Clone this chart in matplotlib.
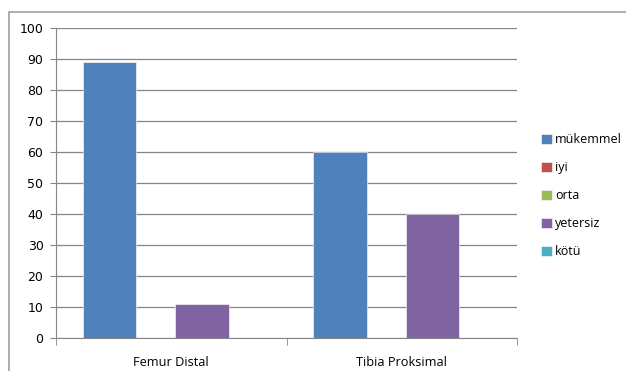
import matplotlib.pyplot as plt
from matplotlib.patches import Rectangle
import numpy as np

# data
categories = ["Femur Distal", "Tibia Proksimal"]
series_names = ["mükemmel", "iyi", "orta", "yetersiz", "kötü"]
mukemmel = [88.9, 60.0]
iyi = [0, 0]
orta = [0, 0]
yetersiz = [11.1, 40.0]
kotu = [0, 0]
series_values = [mukemmel, iyi, orta, yetersiz, kotu]
colors = ["#4f81bd", "#c0504d", "#9bbb59", "#8064a2", "#4bacc6"]

plt.rcParams['font.family'] = ['Open Sans', 'DejaVu Sans']

W, H = 626, 371
fig = plt.figure(figsize=(W / 100, H / 100), dpi=100)

# chart frame (excel style border), runs off the right and bottom
fig.patches.append(Rectangle((9 / W, -20 / H), 700 / W, (371 + 20 - 12) / H,
                             transform=fig.transFigure, fill=False,
                             edgecolor="#a0a0a0", linewidth=1.2))

# plot area
left, right, top, bottom = 56, 517, 28, 338
ax = fig.add_axes([left / W, 1 - bottom / H, (right - left) / W, (bottom - top) / H])

x = np.arange(len(categories))
step = 0.134
width = 0.232
for i, (name, vals) in enumerate(zip(series_names, series_values)):
    ax.bar(x + (i - 2) * step, vals, width, color=colors[i], label=name,
           edgecolor="white", linewidth=0.4, zorder=3)

ax.set_xlim(-0.5, 1.5)
ax.set_ylim(0, 100)
ax.set_yticks(np.arange(0, 101, 10))
ax.set_yticklabels([str(v) for v in range(0, 101, 10)], family="DejaVu Sans", fontsize=9)
ax.yaxis.grid(True, color="#868686", linewidth=0.9, zorder=0)
ax.set_xticks(x)
ax.set_xticklabels(categories, fontsize=9.2)
ax.tick_params(axis="x", length=0, pad=13)
ax.set_xticks([-0.5, 0.5, 1.5], minor=True)
ax.tick_params(axis="x", which="minor", length=5, color="#868686", direction="out")
ax.tick_params(axis="y", length=4, color="#868686", pad=5)

for s in ["top", "right"]:
    ax.spines[s].set_visible(False)
for s in ["left", "bottom"]:
    ax.spines[s].set_color("#868686")

ax.legend(loc="center left", bbox_to_anchor=(1.052, 0.46), frameon=False,
          fontsize=9, handlelength=0.85, handleheight=0.85, handletextpad=0.3,
          labelspacing=1.2, borderaxespad=0, borderpad=0)

fig.savefig("out.png", dpi=100)
